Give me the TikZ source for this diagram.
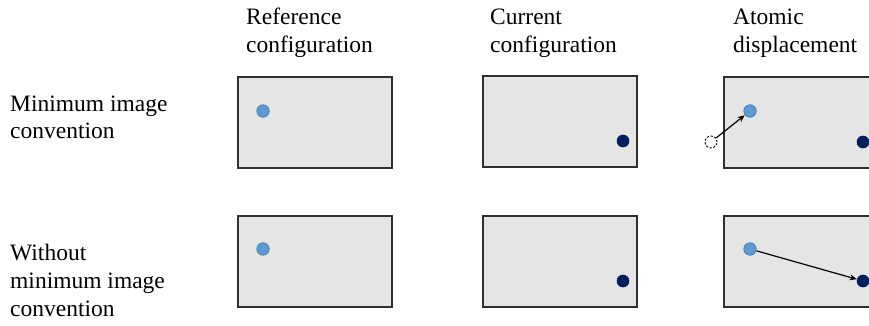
\documentclass[tikz,border=0pt]{standalone}
\usepackage{fontspec}
\setmainfont{Liberation Serif}
\usetikzlibrary{arrows.meta}
\definecolor{boxfill}{HTML}{E5E5E5}
\definecolor{boxline}{HTML}{303030}
\definecolor{atomlight}{HTML}{5B9BD5}
\definecolor{atomlightline}{HTML}{41719C}
\definecolor{atomdark}{HTML}{002060}
\tikzset{
  cell/.style={draw=boxline, fill=boxfill, line width=1.4pt},
  lbl/.style={anchor=base west, inner sep=0pt, font=\fontsize{23.5}{28}\selectfont},
  lightatom/.style={circle, fill=atomlight, draw=atomlightline, line width=0.6pt, minimum size=12.5pt, inner sep=0pt},
  darkatom/.style={circle, fill=atomdark, draw=atomdark!80!black, line width=0.6pt, minimum size=12pt, inner sep=0pt},
  ghost/.style={circle, draw=black, dashed, dash pattern=on 2.2pt off 1.6pt, line width=0.9pt, fill=white, minimum size=12pt, inner sep=0pt},
  disp/.style={-{Stealth[length=7pt,width=6pt]}, line width=1.2pt, black, shorten >=0.3pt, shorten <=0.3pt}
}
\begin{document}
\begin{tikzpicture}[x=1pt,y=-1pt]
\useasboundingbox (0,0) rectangle (869,326);
\clip (0,0) rectangle (869,326);
% column headers
\node[lbl] (h1a) at (246,25) {Reference};
\node[lbl] (h1b) at (246,53) {configuration};
\node[lbl] (h2a) at (490,25) {Current};
\node[lbl] (h2b) at (490,53) {configuration};
\node[lbl] (h3a) at (733,25) {Atomic};
\node[lbl] (h3b) at (733,53) {displacement};
% row labels
\node[lbl] (r1a) at (10,111) {Minimum image};
\node[lbl] (r1b) at (10,139) {convention};
\node[lbl] (r2a) at (10,260) {Without};
\node[lbl] (r2b) at (10,288) {minimum image};
\node[lbl] (r2c) at (10,316) {convention};
% row 1 boxes
\draw[cell] (238,77) rectangle (392,168);
\draw[cell] (483,76) rectangle (637,167);
\draw[cell] (724,77) rectangle (878,168);
% row 2 boxes
\draw[cell] (238,216) rectangle (392,307);
\draw[cell] (483,216) rectangle (637,307);
\draw[cell] (724,216) rectangle (878,307);
% row 1 atoms
\node[lightatom] (a11) at (263,111) {};
\node[darkatom] (a12) at (623,141) {};
\node[ghost] (g13) at (711,142) {};
\node[lightatom] (a13) at (750,111) {};
\node[darkatom] (b13) at (863,142) {};
\draw[disp] (g13) -- (a13);
% row 2 atoms
\node[lightatom] (a21) at (263,249) {};
\node[darkatom] (a22) at (623,281) {};
\node[lightatom] (a23) at (750,249) {};
\node[darkatom] (b23) at (863,281) {};
\draw[disp] (a23) -- (b23);
\end{tikzpicture}
\end{document}
